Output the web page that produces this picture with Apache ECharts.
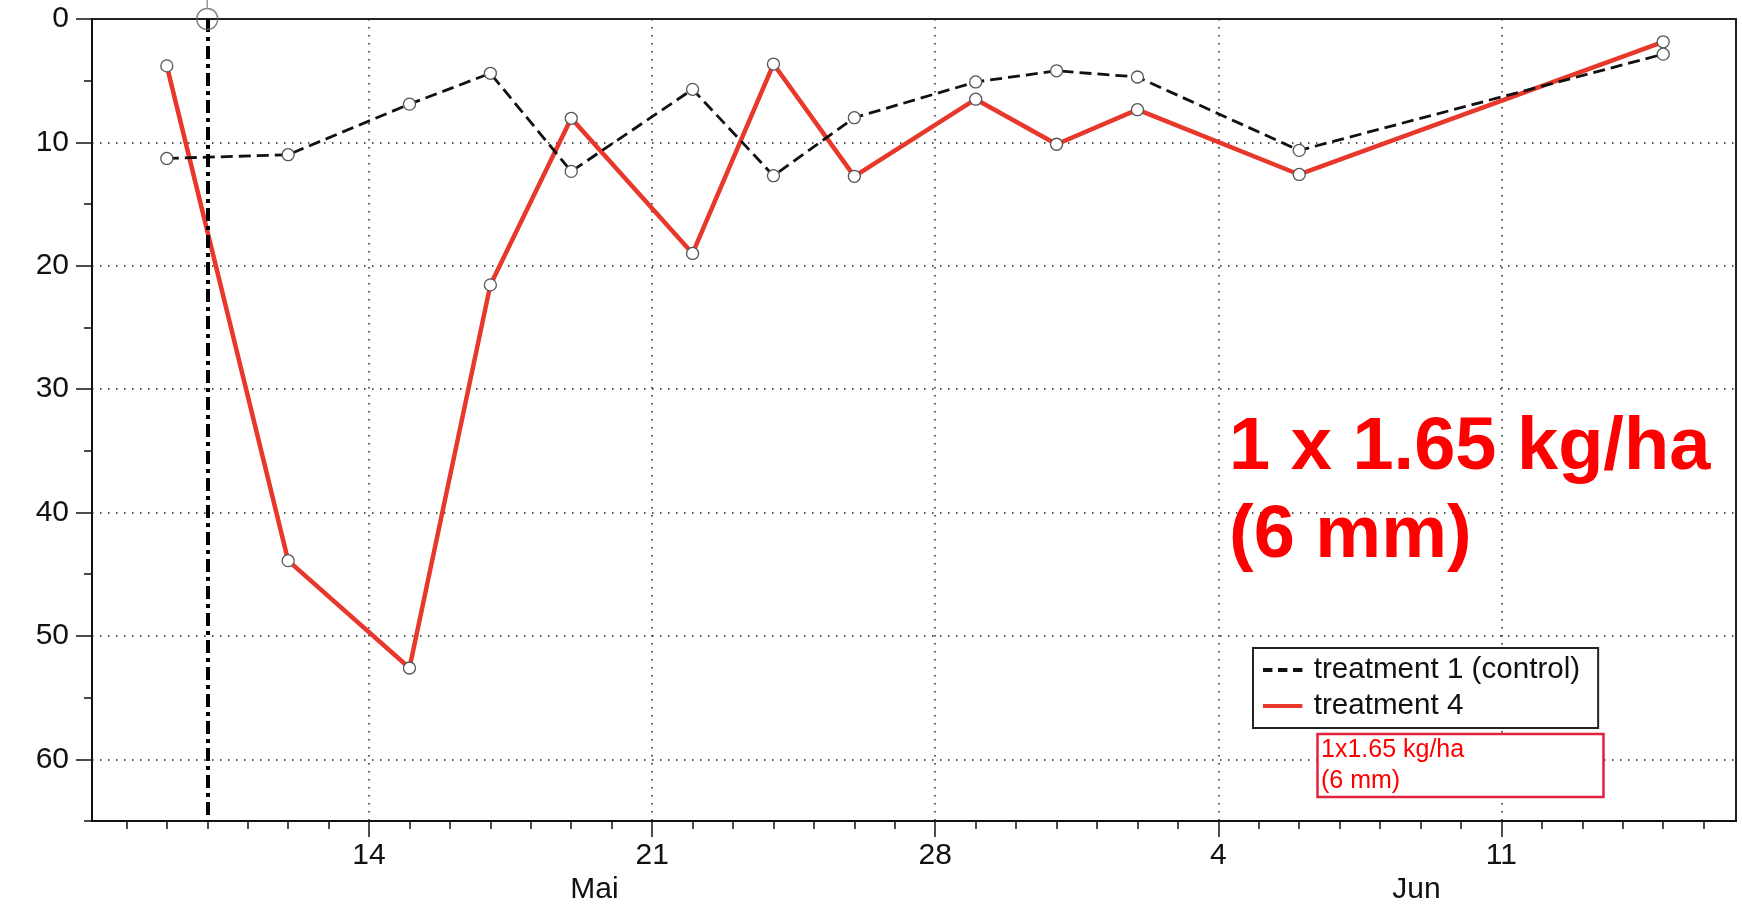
<!DOCTYPE html>
<html><head><meta charset="utf-8">
<script src="https://cdn.jsdelivr.net/npm/echarts@6/dist/echarts.min.js"></script>
<style>html,body{margin:0;padding:0;background:#fff}#c{width:1742px;height:904px}</style>
</head><body><div id="c"></div>
<script>
// ---- data ----
const dates = ['2018-05-09','2018-05-12','2018-05-15','2018-05-17','2018-05-19','2018-05-22','2018-05-24','2018-05-26','2018-05-29','2018-05-31','2018-06-02','2018-06-06','2018-06-15'];
const control = [11.3, 11.0, 6.9, 4.4, 12.35, 5.7, 12.7, 8.0, 5.1, 4.2, 4.7, 10.65, 2.85];
const treatment4 = [3.8, 43.9, 52.6, 21.55, 8.05, 19.0, 3.65, 12.75, 6.5, 10.15, 7.35, 12.6, 1.85];
const seriesNames = ['treatment 1 (control)', 'treatment 4'];
const applicationDates = ['2018-05-10'];
const weekTickDates = ['2018-05-14','2018-05-21','2018-05-28','2018-06-04','2018-06-11'];
const monthLabels = ['Mai', 'Jun'];
const monthStarts = ['2018-05-01', '2018-06-01', '2018-07-01'];
const yTickValues = [0, 10, 20, 30, 40, 50, 60];
const yMinorTickValues = [0, 5, 10, 15, 20, 25, 30, 35, 40, 45, 50, 55, 60, 65];
const annotationBig = '1 x 1.65 kg/ha\n(6 mm)';
const annotationSmall = '1x1.65 kg/ha\n(6 mm)';

// ---- helpers ----
const ORIGIN = Date.parse('2018-04-30T00:00:00Z');
const DAY = 86400000;
const toDay = s => (Date.parse(s + 'T00:00:00Z') - ORIGIN) / DAY;
const dayOfMonth = v => new Date(ORIGIN + Math.round(v) * DAY).getUTCDate();

const xMin = 7.15, xMax = 47.8, yMin = 0, yMax = 65;
const dailyTicks = [];
for (let d = Math.ceil(xMin); d <= Math.floor(xMax); d++) dailyTicks.push(d);
const weekTicks = weekTickDates.map(toDay);

const FONT = '"Liberation Sans", Arial, Helvetica, sans-serif';
const RED = '#e8382b';

const controlData = dates.map((d, i) => [toDay(d), control[i]]);
const t4Data = dates.map((d, i) => [toDay(d), treatment4[i]]);
const appDays = applicationDates.map(toDay);

const chart = echarts.init(document.getElementById('c'), null, {renderer: 'canvas'});

const dotted = {type: [1.5, 6.5], color: '#222', width: 1.5};

chart.setOption({
  animation: false,
  backgroundColor: '#fff',
  textStyle: {fontFamily: FONT},
  grid: {left: 92, right: 6, top: 19, bottom: 83, show: true, borderColor: '#222', borderWidth: 2, backgroundColor: 'transparent'},
  xAxis: [
    {
      type: 'value', min: xMin, max: xMax, minInterval: 1, maxInterval: 1, position: 'bottom',
      axisLine: {show: true, onZero: false, lineStyle: {color: '#111', width: 2}},
      axisTick: {show: true, length: 8, customValues: dailyTicks, lineStyle: {color: '#111', width: 1.5}},
      axisLabel: {show: false},
      splitLine: {show: false}
    },
    {
      type: 'value', min: xMin, max: xMax, minInterval: 7, maxInterval: 7, position: 'bottom',
      axisLine: {show: false, onZero: false},
      axisTick: {show: true, length: 16, customValues: weekTicks, lineStyle: {color: '#111', width: 1.5}},
      axisLabel: {show: true, customValues: weekTicks, fontSize: 30, color: '#111', margin: 20, fontFamily: FONT,
                  formatter: v => String(dayOfMonth(v))},
      splitLine: {show: true, lineStyle: dotted}
    }
  ],
  yAxis: [
    {
      type: 'value', inverse: true, min: yMin, max: yMax, interval: 10, position: 'left',
      axisLine: {show: true, onZero: false, lineStyle: {color: '#111', width: 2}},
      axisTick: {show: true, length: 16, customValues: yTickValues, lineStyle: {color: '#111', width: 1.5}},
      axisLabel: {show: true, customValues: yTickValues, fontSize: 30, color: '#111', margin: 23, fontFamily: FONT,
                  formatter: v => (v % 10 === 0 && v <= 60) ? String(v) : ''},
      splitLine: {show: true, lineStyle: dotted}
    },
    {
      type: 'value', inverse: true, min: yMin, max: yMax, interval: 5, position: 'left', offset: 0,
      axisLine: {show: false, onZero: false},
      axisTick: {show: true, length: 8, customValues: yMinorTickValues, lineStyle: {color: '#111', width: 1.5}},
      axisLabel: {show: false},
      splitLine: {show: false}
    }
  ],
  legend: {
    orient: 'vertical', left: 1253, top: 648, padding: [4, 18, 4, 10], itemGap: 0,
    itemWidth: 52, itemHeight: 4, borderColor: '#222', borderWidth: 2, backgroundColor: '#fff',
    selectedMode: false,
    itemStyle: {borderWidth: 0},
    textStyle: {fontSize: 29.6, color: '#111', lineHeight: 36, fontFamily: FONT},
    data: [
      {name: seriesNames[0], icon: 'path://M0,0h9.4v4h-9.4z M15,0h9.4v4h-9.4z M30,0h9.4v4h-9.4z', itemStyle: {color: '#111', borderWidth: 0}},
      {name: seriesNames[1], icon: 'path://M0,0h39.4v4h-39.4z', itemStyle: {color: RED, borderWidth: 0}}
    ]
  },
  series: [
    {
      name: seriesNames[0], type: 'line', xAxisIndex: 0, yAxisIndex: 0, data: controlData, z: 4,
      color: '#111', symbol: 'circle', symbolSize: 12, showSymbol: true,
      lineStyle: {color: '#111', width: 2.8, type: [12, 6]},
      itemStyle: {color: '#fff', borderColor: '#555', borderWidth: 1.3}
    },
    {
      name: seriesNames[1], type: 'line', xAxisIndex: 0, yAxisIndex: 0, data: t4Data, z: 3,
      color: RED, symbol: 'circle', symbolSize: 12, showSymbol: true,
      lineStyle: {color: RED, width: 4.5},
      itemStyle: {color: '#fff', borderColor: '#555', borderWidth: 1.3}
    },
    {
      name: 'application', type: 'scatter', xAxisIndex: 0, yAxisIndex: 0, z: 6, silent: true,
      data: appDays.map(d => [d, yMin]), symbol: 'circle', symbolSize: 21, clip: false,
      itemStyle: {color: 'rgba(0,0,0,0)', borderColor: '#666', borderWidth: 1.5},
      markLine: {
        silent: true, symbol: ['none', 'none'], label: {show: false},
        lineStyle: {color: '#000', width: 4, type: [13, 5, 4, 5]},
        data: appDays.map(d => ({xAxis: d}))
      }
    }
  ],
  graphic: [
    {id: 'bigText', type: 'text', x: 1229, y: 405, z: 10,
     style: {text: annotationBig, fill: '#ff0000', fontSize: 74, fontWeight: 'bold', fontFamily: FONT, lineHeight: 88, verticalAlign: 'top', align: 'left'}},
    {id: 'smallBox', type: 'rect', z: 10, shape: {x: 1317.5, y: 734, width: 286, height: 63},
     style: {fill: '#fff', stroke: '#e3213f', lineWidth: 2.5}},
    {id: 'smallText', type: 'text', x: 1321, y: 735, z: 11,
     style: {text: annotationSmall, fill: '#ff0000', fontSize: 25, fontFamily: FONT, lineHeight: 31, verticalAlign: 'top', align: 'left'}}
  ]
});

// month labels centred on visible portion of each month, and the application tick above the frame
const extra = [];
monthLabels.forEach((m, i) => {
  const a = Math.max(toDay(monthStarts[i]), xMin);
  const b = Math.min(toDay(monthStarts[i + 1]), xMax);
  if (b <= a) return;
  const px = chart.convertToPixel({xAxisIndex: 0}, (a + b) / 2);
  extra.push({id: 'month' + i, type: 'text', x: px, y: 890, z: 10,
    style: {text: m, fill: '#111', fontSize: 30, fontFamily: FONT, align: 'center', verticalAlign: 'middle'}});
});
appDays.forEach((d, i) => {
  const p = chart.convertToPixel({xAxisIndex: 0, yAxisIndex: 0}, [d, yMin]);
  extra.push({id: 'appTick' + i, type: 'line', z: 10, shape: {x1: p[0], y1: 0, x2: p[0], y2: p[1] - 10.5},
    style: {stroke: '#999', lineWidth: 1.5}});
});
chart.setOption({graphic: extra});
</script>
</body></html>
